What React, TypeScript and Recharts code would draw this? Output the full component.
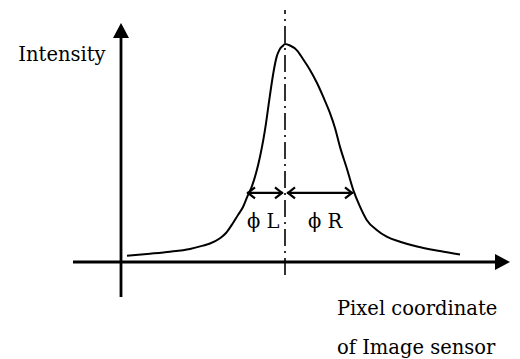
import React from "react";
import { ComposedChart, Line, XAxis, YAxis, ReferenceLine, ReferenceDot } from "recharts";

// Pixel coordinate (relative to the axis origin) along the sensor
const pixelCoord = [6, 29, 49, 69, 82, 89, 99, 105, 112, 117, 122, 126.3, 130.7, 135, 139, 142.3, 145, 147.3, 149.7, 152.3, 155.7, 158.3, 161.7, 164, 169, 175.7, 182, 189, 196, 202.3, 209, 214, 219, 225.7, 232.3, 239, 245.7, 255.7, 265.7, 279, 296, 319, 339];
// Normalised intensity
const intensity = [0.029, 0.038, 0.047, 0.06, 0.075, 0.085, 0.109, 0.133, 0.179, 0.216, 0.252, 0.3, 0.345, 0.407, 0.483, 0.56, 0.636, 0.712, 0.789, 0.866, 0.942, 0.972, 0.991, 1.0, 0.993, 0.972, 0.931, 0.881, 0.821, 0.757, 0.683, 0.615, 0.528, 0.431, 0.33, 0.254, 0.193, 0.147, 0.116, 0.093, 0.071, 0.05, 0.034];

const peakX = 164;
const widthLevel = 0.317;
const leftEdge = 126;
const rightEdge = 232;

const yLabel = "Intensity";
const xLabelLines = ["Pixel coordinate", "of Image sensor"];
const widthLabels = ["\u03D5 L", "\u03D5 R"];

const data = pixelCoord.map((x, i) => ({ x, v: intensity[i] }));

const W = 520;
const H = 359;
const X_DOMAIN: [number, number] = [-121, 399];
const Y_DOMAIN: [number, number] = [-97 / 218, 262 / 218];

const FONT = "'DejaVu Serif', serif";
const FS = 19.5;
const INK = "#000";

const AxisArrow = (props: any) => {
  const { x1, y1, x2, y2 } = props;
  const dx = x2 - x1;
  const dy = y2 - y1;
  const len = Math.sqrt(dx * dx + dy * dy) || 1;
  const ux = dx / len;
  const uy = dy / len;
  const head = 15;
  const half = 8;
  const bx = x2 - ux * head;
  const by = y2 - uy * head;
  const px = -uy;
  const py = ux;
  return (
    <g>
      <line x1={x1} y1={y1} x2={bx + ux * 2} y2={by + uy * 2} stroke={INK} strokeWidth={2.8} />
      <polygon
        points={`${x2},${y2} ${bx + px * half},${by + py * half} ${bx - px * half},${by - py * half}`}
        fill={INK}
      />
    </g>
  );
};

const DoubleArrow = (props: any) => {
  const { x1, y1, x2, y2 } = props;
  const a = 8;
  const h = 5.5;
  return (
    <g fill="none" stroke={INK} strokeWidth={2.2} strokeLinejoin="miter">
      <line x1={x1} y1={y1} x2={x2} y2={y2} />
      <polyline points={`${x1 + a},${y1 - h} ${x1 + 1},${y1} ${x1 + a},${y1 + h}`} />
      <polyline points={`${x2 - a},${y2 - h} ${x2 - 1},${y2} ${x2 - a},${y2 + h}`} />
    </g>
  );
};

const DashDot = (props: any) => {
  const { x1, y1, x2, y2 } = props;
  return <line x1={x1} y1={y1} x2={x2} y2={y2} stroke={INK} strokeWidth={1.6} strokeDasharray="17 5 2 5" />;
};

const makeText = (text: string, anchor: "start" | "end" | "middle") => (props: any) => (
  <text x={props.cx} y={props.cy} textAnchor={anchor} fontFamily={FONT} fontSize={FS} fill={INK}>
    {text}
  </text>
);

export default function App() {
  return (
    <div style={{ position: "absolute", left: 0, top: 0, width: W, height: H, background: "#fff" }}>
      <ComposedChart width={W} height={H} data={data} margin={{ top: 0, right: 0, bottom: 0, left: 0 }}>
        <XAxis dataKey="x" type="number" domain={X_DOMAIN} allowDataOverflow hide />
        <YAxis type="number" domain={Y_DOMAIN} allowDataOverflow hide />
        <ReferenceLine
          segment={[{ x: -48, y: 0 }, { x: 389, y: 0 }]}
          shape={AxisArrow}
          ifOverflow="visible"
        />
        <ReferenceLine
          segment={[{ x: 0, y: -0.161 }, { x: 0, y: 1.096 }]}
          shape={AxisArrow}
          ifOverflow="visible"
        />
        <ReferenceLine
          segment={[{ x: peakX, y: -0.06 }, { x: peakX, y: 1.156 }]}
          shape={DashDot}
          ifOverflow="visible"
        />
        <ReferenceLine
          segment={[{ x: leftEdge, y: widthLevel }, { x: peakX - 2, y: widthLevel }]}
          shape={DoubleArrow}
          ifOverflow="visible"
        />
        <ReferenceLine
          segment={[{ x: peakX + 2, y: widthLevel }, { x: rightEdge, y: widthLevel }]}
          shape={DoubleArrow}
          ifOverflow="visible"
        />
        <Line
          dataKey="v"
          type="monotone"
          stroke={INK}
          strokeWidth={2}
          dot={false}
          activeDot={false}
          isAnimationActive={false}
        />
        <ReferenceDot x={-59} y={0.922} r={0} ifOverflow="visible" shape={makeText(yLabel, "middle")} />
        <ReferenceDot x={216} y={-0.243} r={0} ifOverflow="visible" shape={makeText(xLabelLines[0], "start")} />
        <ReferenceDot x={216} y={-0.422} r={0} ifOverflow="visible" shape={makeText(xLabelLines[1], "start")} />
        <ReferenceDot x={126} y={0.156} r={0} ifOverflow="visible" shape={makeText(widthLabels[0], "start")} />
        <ReferenceDot x={187} y={0.156} r={0} ifOverflow="visible" shape={makeText(widthLabels[1], "start")} />
      </ComposedChart>
    </div>
  );
}
